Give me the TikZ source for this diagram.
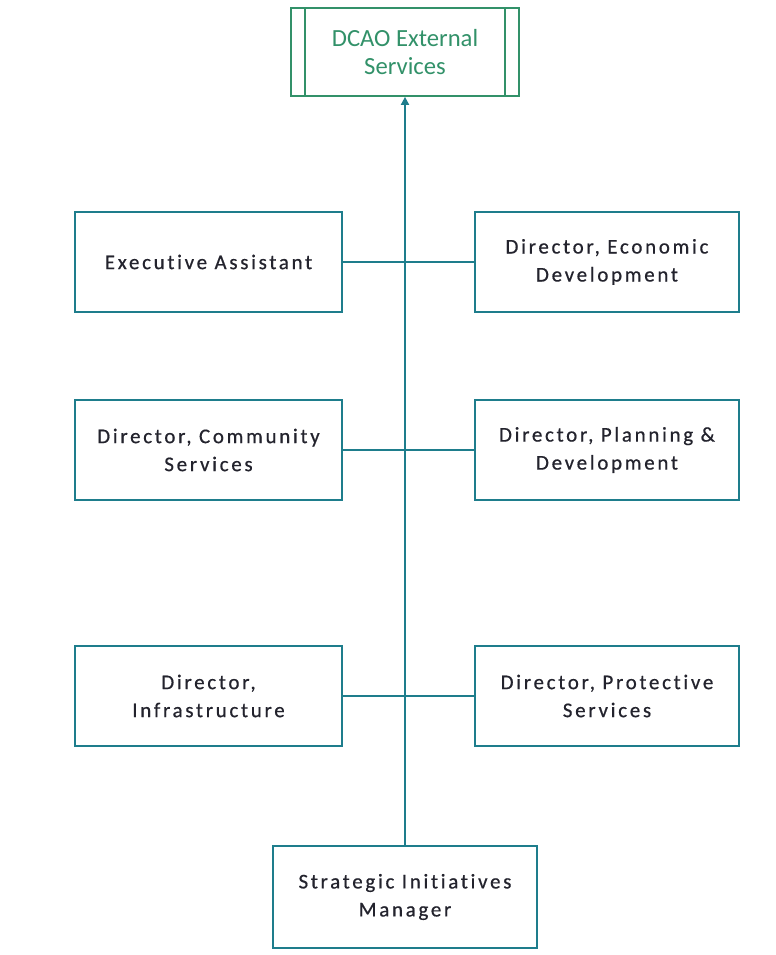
\documentclass[tikz,border=0pt]{standalone}
\usepackage{fontspec}
\setmainfont{Carlito}[Ligatures=NoCommon]
\newfontfamily\spacedfont[LetterSpace=13,Ligatures=NoCommon,FakeBold=0.6]{Carlito}
\usetikzlibrary{arrows.meta}
\definecolor{lineteal}{RGB}{30,125,140}
\definecolor{topgreen}{RGB}{50,145,105}
\definecolor{txtdark}{RGB}{35,35,45}
\tikzset{
  orgbox/.style={draw=lineteal, line width=1.3pt, fill=white, minimum width=267*0.75pt, minimum height=100*0.75pt, align=center, text=txtdark, font=\spacedfont\fontsize{15.7}{21}\selectfont, inner sep=0pt},
  conn/.style={draw=lineteal, line width=1.3pt},
}
\begin{document}
\begin{tikzpicture}[x=0.75pt,y=-0.75pt]
\useasboundingbox (0,0) rectangle (775,955);
% top box
\node[draw=topgreen, line width=1.3pt, minimum width=228*0.75pt, minimum height=88*0.75pt, inner sep=0pt, align=center, text=topgreen, font=\fontsize{18.5}{21}\selectfont] (top) at (405,52) {DCAO External\\Services};
\draw[topgreen, line width=1.1pt] ([xshift=15*0.75pt]top.north west) -- ([xshift=15*0.75pt]top.south west);
\draw[topgreen, line width=1.1pt] ([xshift=-15*0.75pt]top.north east) -- ([xshift=-15*0.75pt]top.south east);
% boxes
\node[orgbox] (ea) at (208.5,262) {Executive Assistant};
\node[orgbox, minimum width=264*0.75pt] (ed) at (607,262) {Director, Economic\\Development};
\node[orgbox] (cs) at (208.5,450) {Director, Community\\Services};
\node[orgbox, minimum width=264*0.75pt] (pd) at (607,450) {Director, Planning \&\\Development};
\node[orgbox] (inf) at (208.5,696) {Director,\\Infrastructure};
\node[orgbox, minimum width=264*0.75pt] (ps) at (607,696) {Director, Protective\\Services};
\node[orgbox, minimum width=264*0.75pt, minimum height=102*0.75pt] (sim) at (405,897) {Strategic Initiatives\\Manager};
% connectors
\draw[conn, -{Triangle[length=6pt,width=6pt]}] (sim.north) -- (top.south);
\draw[conn] (ea.east) -- (ed.west);
\draw[conn] (cs.east) -- (pd.west);
\draw[conn] (inf.east) -- (ps.west);
\end{tikzpicture}
\end{document}
